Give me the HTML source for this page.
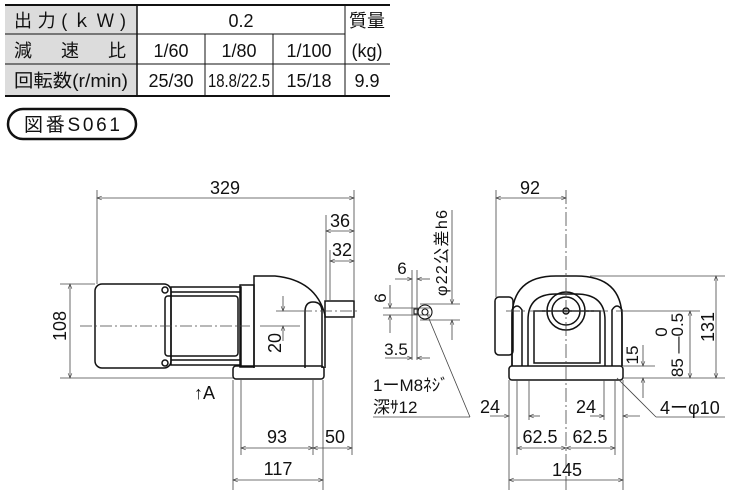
<!DOCTYPE html>
<html><head><meta charset="utf-8"><style>
body{margin:0;background:#fff;width:730px;height:493px;overflow:hidden}
svg text{font-family:"Liberation Sans","Noto Sans CJK JP",sans-serif;fill:#111}
</style></head><body>
<svg width="730" height="493" viewBox="0 0 730 493" xmlns="http://www.w3.org/2000/svg">
<defs>
<marker id="a" viewBox="0 0 10 10" refX="10" refY="5" markerWidth="8" markerHeight="6" orient="auto-start-reverse"><path d="M0,1 L10,5 L0,9" fill="none" stroke="#333" stroke-width="1.2"/></marker>
</defs>
<!-- table -->
<rect x="5" y="5" width="132" height="91" fill="#dcdcdc"/>
<g stroke="#111" fill="none">
<line x1="5" y1="5" x2="390" y2="5" stroke-width="2"/>
<line x1="5" y1="96" x2="390" y2="96" stroke-width="2"/>
<line x1="5" y1="34" x2="345" y2="34"/>
<line x1="5" y1="64" x2="390" y2="64"/>
<line x1="137" y1="5" x2="137" y2="96" stroke-width="1.5"/>
<line x1="205" y1="34" x2="205" y2="96"/>
<line x1="273" y1="34" x2="273" y2="96"/>
<line x1="345" y1="5" x2="345" y2="96"/>
</g>
<g font-size="18">
<text x="14" y="27" textLength="112">出力(ｋＷ)</text>
<text x="241" y="27" text-anchor="middle">0.2</text>
<text x="367" y="27" text-anchor="middle">質量</text>
<text x="14" y="57" textLength="112">減　速　比</text>
<text x="171" y="57" text-anchor="middle">1/60</text>
<text x="239" y="57" text-anchor="middle">1/80</text>
<text x="309" y="57" text-anchor="middle">1/100</text>
<text x="367" y="57" text-anchor="middle">(kg)</text>
<text x="14" y="87" textLength="114" lengthAdjust="spacingAndGlyphs">回転数(r/min)</text>
<text x="171" y="87" text-anchor="middle">25/30</text>
<text x="239" y="87" text-anchor="middle" textLength="62" lengthAdjust="spacingAndGlyphs">18.8/22.5</text>
<text x="309" y="87" text-anchor="middle">15/18</text>
<text x="367" y="87" text-anchor="middle">9.9</text>
</g>
<rect x="8" y="109" width="128" height="30" rx="15" fill="none" stroke="#111" stroke-width="2.5"/>
<text x="24" y="131" font-size="19" textLength="96">図番S061</text>

<!-- side view -->
<g stroke="#111" fill="none" stroke-width="1.5">
<rect x="95" y="284" width="76" height="84" rx="7"/>
<rect x="165" y="296" width="73" height="60" rx="3"/>
<rect x="171" y="287" width="70" height="78"/>
<line x1="171" y1="292" x2="241" y2="292"/><line x1="171" y1="360" x2="241" y2="360"/>
<rect x="240" y="285" width="14" height="82"/>
<path d="M254,368 V276 H275 Q316,280 325,315 V368"/>
<path d="M305,368 V312 Q305,302 313,302 Q322,302 322,312 V368"/>
<rect x="233" y="366" width="91" height="13" rx="3"/>
<rect x="325" y="301" width="29" height="16"/>
<circle cx="165" cy="290" r="3"/><circle cx="165" cy="363" r="3"/>
</g>
<g stroke="#444" stroke-width="0.8" fill="none">
<line x1="80" y1="326" x2="250" y2="326" stroke-dasharray="12,3,2,3"/>
<line x1="300" y1="311" x2="360" y2="311" stroke-dasharray="12,3,2,3"/>
<line x1="97" y1="190" x2="97" y2="284"/><line x1="354" y1="190" x2="354" y2="300"/>
<line x1="326" y1="215" x2="326" y2="300"/><line x1="330" y1="250" x2="330" y2="300"/>
<line x1="97" y1="198" x2="354" y2="198" marker-start="url(#a)" marker-end="url(#a)"/>
<line x1="326" y1="231" x2="354" y2="231" marker-start="url(#a)" marker-end="url(#a)"/>
<line x1="330" y1="261" x2="354" y2="261" marker-start="url(#a)" marker-end="url(#a)"/>
<line x1="60" y1="284" x2="95" y2="284"/><line x1="60" y1="378" x2="233" y2="378"/>
<line x1="70" y1="284" x2="70" y2="378" marker-start="url(#a)" marker-end="url(#a)"/>
<line x1="276" y1="311" x2="300" y2="311"/><line x1="260" y1="326" x2="300" y2="326"/>
<line x1="283" y1="296" x2="283" y2="311" marker-end="url(#a)"/>
<line x1="283" y1="341" x2="283" y2="326" marker-end="url(#a)"/>
<line x1="233" y1="380" x2="233" y2="490"/><line x1="241" y1="380" x2="241" y2="455"/>
<line x1="313" y1="380" x2="313" y2="455"/><line x1="323" y1="380" x2="323" y2="490"/>
<line x1="352" y1="318" x2="352" y2="455"/>
<line x1="241" y1="448" x2="313" y2="448" marker-start="url(#a)" marker-end="url(#a)"/>
<line x1="313" y1="448" x2="352" y2="448" marker-start="url(#a)" marker-end="url(#a)"/>
<line x1="233" y1="480" x2="323" y2="480" marker-start="url(#a)" marker-end="url(#a)"/>
</g>
<g font-size="18">
<text x="225" y="194" text-anchor="middle">329</text>
<text x="340" y="227" text-anchor="middle">36</text>
<text x="342" y="256" text-anchor="middle">32</text>
<text transform="translate(66,326) rotate(-90)" text-anchor="middle">108</text>
<text transform="translate(281,343) rotate(-90)" text-anchor="middle">20</text>
<text x="194" y="399">↑A</text>
<text x="277" y="443" text-anchor="middle">93</text>
<text x="335" y="443" text-anchor="middle">50</text>
<text x="278" y="475" text-anchor="middle">117</text>
</g>

<!-- shaft detail -->
<g stroke="#111" fill="none" stroke-width="1.1">
<circle cx="425" cy="312" r="7"/><circle cx="425" cy="312" r="3"/>
<rect x="414" y="309" width="4" height="5"/>
</g>
<g stroke="#444" stroke-width="0.8" fill="none">
<line x1="412" y1="270" x2="412" y2="360"/><line x1="417" y1="270" x2="417" y2="360"/>
<line x1="395" y1="279" x2="412" y2="279" marker-end="url(#a)"/><line x1="430" y1="279" x2="417" y2="279" marker-end="url(#a)"/>
<line x1="383" y1="308" x2="430" y2="308"/><line x1="383" y1="315" x2="430" y2="315"/>
<line x1="390" y1="285" x2="390" y2="308" marker-end="url(#a)"/><line x1="390" y1="333" x2="390" y2="315" marker-end="url(#a)"/>
<line x1="385" y1="358" x2="412" y2="358" marker-end="url(#a)"/><line x1="430" y1="358" x2="417" y2="358" marker-end="url(#a)"/>
<line x1="420" y1="304" x2="460" y2="304"/><line x1="420" y1="320" x2="460" y2="320"/>
<line x1="452" y1="210" x2="452" y2="304" marker-end="url(#a)"/><line x1="452" y1="340" x2="452" y2="320" marker-end="url(#a)"/>
<line x1="427" y1="314" x2="470" y2="417"/><line x1="373" y1="417" x2="470" y2="417"/>
</g>
<g font-size="17">
<text x="402" y="274" text-anchor="middle">6</text>
<text transform="translate(386,298) rotate(-90)" text-anchor="middle">6</text>
<text x="396" y="355" text-anchor="middle">3.5</text>
<text transform="translate(447,296) rotate(-90)" font-size="16" textLength="86">φ22公差h6</text>
<text x="373" y="391">1ーM8ﾈｼﾞ</text>
<text x="373" y="413">深ｻ12</text>
</g>

<!-- front view -->
<g stroke="#111" fill="none" stroke-width="1.5">
<rect x="495" y="297" width="18" height="58" rx="4"/>
<path d="M512,366 V318 Q512,276 556,276 H576 Q622,276 622,318 V366"/>
<path d="M528,366 V320 Q528,294 556,294 H576 Q605,294 605,320 V366"/>
<path d="M512,366 V310 Q517,302 522,310 V366"/><path d="M612,366 V310 Q617,302 622,310 V366"/>
<rect x="534" y="311" width="66" height="52"/>
<circle cx="566" cy="311" r="19"/><circle cx="566" cy="311" r="14"/><circle cx="566" cy="311" r="3"/>
<rect x="509" y="366" width="114" height="14" rx="3"/>
</g>
<g stroke="#444" stroke-width="0.8" fill="none">
<line x1="566" y1="190" x2="566" y2="490" stroke-dasharray="14,3,2,3"/>
<line x1="506" y1="311" x2="626" y2="311" stroke-dasharray="14,3,2,3"/>
<line x1="496" y1="190" x2="496" y2="297"/>
<line x1="496" y1="198" x2="566" y2="198" marker-start="url(#a)" marker-end="url(#a)"/>
<line x1="590" y1="276" x2="725" y2="276"/><line x1="626" y1="311" x2="700" y2="311"/>
<line x1="623" y1="366" x2="655" y2="366"/><line x1="623" y1="378" x2="725" y2="378"/>
<line x1="716" y1="276" x2="716" y2="378" marker-start="url(#a)" marker-end="url(#a)"/>
<line x1="690" y1="311" x2="690" y2="378" marker-start="url(#a)" marker-end="url(#a)"/>
<line x1="643" y1="345" x2="643" y2="366" marker-end="url(#a)"/><line x1="643" y1="398" x2="643" y2="378" marker-end="url(#a)"/>
<line x1="509" y1="380" x2="509" y2="490"/><line x1="517" y1="380" x2="517" y2="455"/>
<line x1="529" y1="380" x2="529" y2="420"/><line x1="604" y1="380" x2="604" y2="420"/>
<line x1="615" y1="380" x2="615" y2="455"/><line x1="623" y1="380" x2="623" y2="490"/>
<line x1="490" y1="416" x2="509" y2="416" marker-end="url(#a)"/><line x1="540" y1="416" x2="529" y2="416" marker-end="url(#a)"/>
<line x1="590" y1="416" x2="604" y2="416" marker-end="url(#a)"/><line x1="640" y1="416" x2="623" y2="416" marker-end="url(#a)"/>
<line x1="517" y1="448" x2="566" y2="448" marker-start="url(#a)" marker-end="url(#a)"/>
<line x1="566" y1="448" x2="615" y2="448" marker-start="url(#a)" marker-end="url(#a)"/>
<line x1="509" y1="480" x2="623" y2="480" marker-start="url(#a)" marker-end="url(#a)"/>
<line x1="617" y1="378" x2="656" y2="417"/><line x1="656" y1="417" x2="725" y2="417"/>
</g>
<g font-size="18">
<text x="530" y="194" text-anchor="middle">92</text>
<text transform="translate(714,327) rotate(-90)" text-anchor="middle">131</text>
<text transform="translate(683,345) rotate(-90)" text-anchor="middle" font-size="17">85 ―0.5</text>
<text transform="translate(667,332) rotate(-90)" text-anchor="middle" font-size="17">0</text>
<text transform="translate(638,355) rotate(-90)" text-anchor="middle" font-size="17">15</text>
<text x="490" y="413" text-anchor="middle">24</text>
<text x="586" y="413" text-anchor="middle">24</text>
<text x="540" y="443" text-anchor="middle">62.5</text>
<text x="590" y="443" text-anchor="middle">62.5</text>
<text x="567" y="476" text-anchor="middle">145</text>
<text x="660" y="414">4ーφ10</text>
</g>
</svg>
</body></html>
